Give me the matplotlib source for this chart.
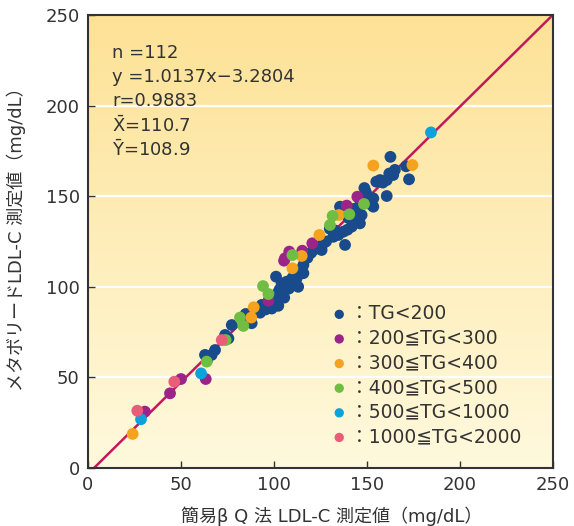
import numpy as np
import matplotlib.pyplot as plt

plt.rcParams['font.family'] = ['DejaVu Sans', 'Noto Sans CJK JP']
plt.rcParams['mathtext.fontset'] = 'dejavusans'

# data (x: simple beta-Q, y: Metabolead)
blue_x = [162.6, 171.0, 172.6, 165.0, 164.1, 162.0, 160.6, 157.0, 155.0, 160.6,
          148.6, 149.3, 153.4, 153.4, 152.0, 146.2, 147.1, 145.3, 146.2, 144.4,
          141.8, 137.3, 134.6, 139.5, 138.2, 135.5, 131.9, 133.0, 126.5, 125.6,
          121.1, 120.0, 115.8, 114.0, 115.8, 112.2, 110.4, 106.8, 104.1, 101.1,
          107.7, 104.1, 105.5, 100.5, 102.3, 96.9, 98.8, 93.4, 92.5, 85.3,
          88.0, 84.8, 77.3, 73.7, 75.5, 68.3, 66.5, 62.9, 64.0, 130.0,
          128.0, 118.0, 110.0, 108.0, 103.0, 99.0, 95.5, 150.5, 143.0, 113.0,
          158.5, 90.0, 140.0, 124.0]
blue_y = [171.7, 166.5, 159.3, 164.5, 161.7, 162.5, 158.9, 158.9, 158.0, 150.1,
          154.5, 152.5, 148.8, 144.2, 145.5, 147.9, 139.6, 140.6, 135.0, 137.8,
          133.2, 130.4, 128.6, 131.5, 123.1, 144.2, 127.6, 131.0, 124.0, 120.3,
          120.3, 118.8, 112.0, 109.3, 107.5, 104.7, 101.9, 102.8, 101.9, 105.6,
          101.9, 96.4, 94.0, 92.7, 89.5, 90.0, 88.0, 90.0, 85.7, 82.6,
          79.9, 85.0, 78.9, 73.4, 71.5, 65.1, 62.4, 62.4, 59.5, 132.0,
          125.0, 116.0, 105.0, 99.0, 98.5, 94.0, 87.5, 150.0, 143.0, 100.0,
          157.5, 87.0, 138.0, 122.0]

purple_x = [144.8, 139.1, 120.6, 115.2, 108.2, 105.9, 105.4, 97.0, 63.3, 50.0, 44.1, 30.6]
purple_y = [149.7, 144.8, 124.0, 119.9, 119.4, 115.7, 114.4, 92.3, 49.1, 49.1, 41.2, 31.1]

orange_x = [153.4, 174.4, 24.0, 124.4, 134.9, 114.9, 109.9, 89.1, 87.8]
orange_y = [166.9, 167.2, 18.8, 128.6, 139.6, 117.0, 110.2, 88.7, 83.0]

green_x = [148.4, 140.5, 131.5, 130.1, 109.9, 94.1, 97.0, 81.7, 83.5, 74.0, 63.8]
green_y = [145.7, 140.0, 139.1, 134.1, 117.5, 100.4, 96.0, 83.0, 78.4, 70.6, 58.7]

cyan_x = [184.4, 28.5, 60.8]
cyan_y = [185.2, 26.9, 52.2]

pink_x = [71.9, 46.4, 26.5]
pink_y = [70.6, 47.6, 31.6]

labels = ['TG<200', '200≦TG<300', '300≦TG<400', '400≦TG<500',
          '500≦TG<1000', '1000≦TG<2000']
slope, intercept = 1.0137, -3.2804
stats = ['n =112', 'y =1.0137x−3.2804', 'r=0.9883',
         r'$\bar{\mathrm{X}}$=110.7', r'$\bar{\mathrm{Y}}$=108.9']

colors = ['#184a8c', '#9c2389', '#f5a21f', '#70bd44', '#0da2dc', '#e95d79']

fig = plt.figure(figsize=(5.74, 5.26), dpi=100)
ax = fig.add_axes([0.1533, 0.1103, 0.8101, 0.8612])

# background gradient, darker at the top
grad = np.linspace(0, 1, 256).reshape(-1, 1)
top = np.array([253, 226, 150]) / 255
bot = np.array([255, 249, 221]) / 255
img = top[None, None, :] * (1 - grad[:, :, None]) + bot[None, None, :] * grad[:, :, None]
ax.imshow(img, extent=[0, 250, 0, 250], origin='upper', aspect='auto', zorder=0)

for yv in [50, 100, 150, 200]:
    ax.axhline(yv, color='white', lw=1.6, zorder=1)

xs = np.array([0, 250])
ax.plot(xs, slope * xs + intercept, color='#c4185c', lw=1.8, zorder=2)

groups = [(blue_x, blue_y), (purple_x, purple_y), (orange_x, orange_y),
          (green_x, green_y), (cyan_x, cyan_y), (pink_x, pink_y)]
for (gx, gy), c, lab in zip(groups, colors, labels):
    ax.scatter(gx, gy, s=72, color=c, edgecolors='none', zorder=3)
    ax.scatter([], [], s=45, color=c, edgecolors='none', label='：' + lab)

ax.set_xlim(0, 250)
ax.set_ylim(0, 250)
ax.set_xticks([0, 50, 100, 150, 200, 250])
ax.set_yticks([0, 50, 100, 150, 200, 250])
ax.tick_params(direction='in', length=5, width=1, labelsize=13, colors='#333333',
               pad=6)
for sp in ax.spines.values():
    sp.set_color('#333333')
    sp.set_linewidth(1.5)

ax.set_xlabel('簡易β Q 法 LDL-C 測定値（mg/dL）', fontsize=13, color='#333333')
ax.set_ylabel('メタボリードLDL-C 測定値（mg/dL）', fontsize=13, color='#333333')
ax.xaxis.set_label_coords(0.525, -0.085)
ax.yaxis.set_label_coords(-0.133, 0.515)

for i, s in enumerate(stats):
    ax.text(13, 229 - i * 13.3, s, fontsize=13, color='#333333', va='center', zorder=4)

leg = ax.legend(loc='upper left', bbox_to_anchor=(0.5, 0.378), frameon=False,
                fontsize=13.5, handletextpad=0.0, labelspacing=0.3,
                borderaxespad=0, handlelength=1.2)
for t in leg.get_texts():
    t.set_color('#333333')

plt.savefig('out.png', dpi=100)
